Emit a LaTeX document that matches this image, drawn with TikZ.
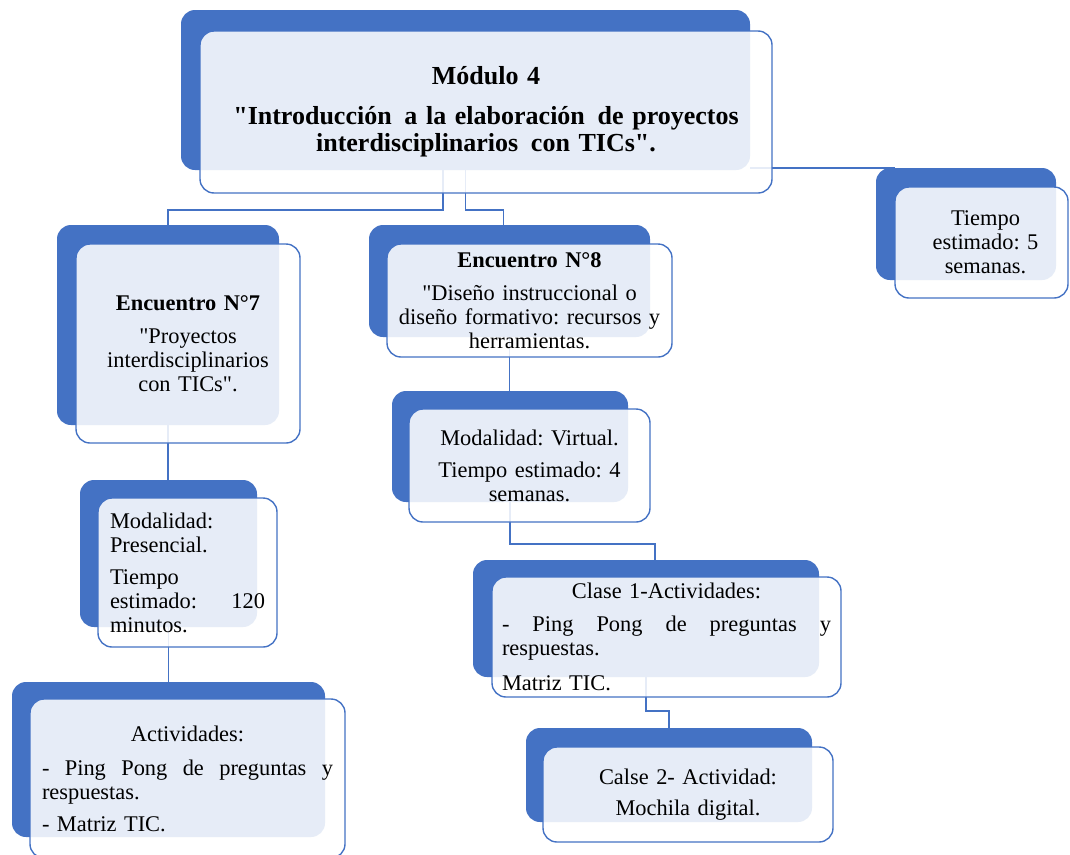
\documentclass[tikz,border=0pt]{standalone}
\usepackage{fontspec}
\setmainfont{Liberation Serif}[Ligatures=TeXOff]
\usetikzlibrary{backgrounds}
\definecolor{myblue}{HTML}{4472C4}
\newcommand\mybody{\fontsize{22.4}{24}\selectfont\frenchspacing}
\newcommand\qd{\char34\relax}
\begin{document}
\begin{tikzpicture}[x=1pt,y=-1pt,
  back/.style={fill=myblue, rounded corners=14pt, inner sep=0pt, outer sep=0pt, anchor=north west},
  front/.style={draw=myblue, line width=1.4pt, fill=white, fill opacity=0.87, text opacity=1,
    rounded corners=14pt, inner sep=0pt, outer sep=0pt, anchor=north west, align=center, font=\mybody},
  conn/.style={draw=myblue, line width=1.8pt},
]
\useasboundingbox (0,0) rectangle (1070,854);

% Module 4
\node[back, minimum width=569pt, minimum height=160pt] (m4b) at (181,10) {};
\node[front, minimum width=572pt, minimum height=162pt, text width=560pt,
  font=\fontsize{26}{27}\selectfont\bfseries\frenchspacing] (m4) at (200,31)
  {Módulo 4\\[13pt]\qd Introducción\hspace{4pt} a la elaboración\hspace{4pt} de proyectos\\interdisciplinarios\hspace{4pt} con TICs\qd.};

% Tiempo estimado 5 semanas
\node[back, minimum width=180pt, minimum height=112pt] (tb) at (876,168) {};
\node[front, minimum width=173pt, minimum height=111pt, text width=160pt] (tf) at (895,187)
  {\hspace*{8pt}Tiempo\\\hspace*{8pt}estimado: 5\\\hspace*{8pt}semanas.};

% Encuentro 7
\node[back, minimum width=222pt, minimum height=200pt] (e7b) at (57,225) {};
\node[front, minimum width=224pt, minimum height=199pt, text width=210pt] (e7) at (76,244)
  {\textbf{Encuentro N°7}\\[9pt]\qd Proyectos\\interdisciplinarios\\con TICs\qd.};

% Encuentro 8
\node[back, minimum width=281pt, minimum height=112pt] (e8b) at (369,225) {};
\node[front, minimum width=285pt, minimum height=113pt, text width=275pt] (e8) at (387,244)
  {\textbf{Encuentro N°8}\\[9pt]\qd Diseño instruccional o\\diseño formativo: recursos y\\herramientas.};

% Modalidad virtual
\node[back, minimum width=236pt, minimum height=111pt] (vb) at (392,391) {};
\node[front, minimum width=241pt, minimum height=113pt, text width=230pt] (v) at (409,409)
  {Modalidad: Virtual.\\[8pt]Tiempo estimado: 4\\semanas.};

% Modalidad presencial
\node[back, minimum width=177pt, minimum height=147pt] (pb) at (80,480) {};
\node[front, minimum width=179pt, minimum height=149pt, text width=155pt, align=left] (p) at (98,498)
  {Modalidad:\\Presencial.\\[8pt]Tiempo\\estimado:\hfill 120\\minutos.};

% Actividades
\node[back, minimum width=313pt, minimum height=155pt] (ab) at (12,682) {};
\node[front, minimum width=315pt, minimum height=159pt, text width=291pt] (a) at (30,699)
  {Actividades:\\[10pt]\makebox[291pt][l]{-\hfill Ping\hfill Pong\hfill de\hfill preguntas\hfill y}\\\makebox[291pt][l]{respuestas.}\\[8pt]\makebox[291pt][l]{- Matriz TIC.}};

% Clase 1
\node[back, minimum width=346pt, minimum height=117pt] (c1b) at (473,560) {};
\node[front, minimum width=349pt, minimum height=120pt, text width=329pt] (c1) at (492,577)
  {Clase 1-Actividades:\\[9pt]\makebox[329pt][l]{-\hfill Ping\hfill Pong\hfill de\hfill preguntas\hfill y}\\\makebox[329pt][l]{respuestas.}\\[11pt]\makebox[329pt][l]{Matriz TIC.}};

% Clase 2
\node[back, minimum width=286pt, minimum height=94pt] (c2b) at (526,728) {};
\node[front, minimum width=290pt, minimum height=95pt, text width=270pt] (c2) at (543,747)
  {Calse 2- Actividad:\\[7pt]Mochila digital.};

\begin{pgfonlayer}{background}
\draw[conn] ([xshift=-22.5pt]m4b.south) -- ++(0,40) -| (e7b.north);
\draw[conn] (m4b.south) -- ++(0,40) -| ([xshift=-6pt]e8b.north);
\coordinate (m4r) at ([yshift=2pt]m4b.south east);
\draw[conn] (m4r) -- (m4r -| tf.west);
\draw[conn] (e7b.south) -- (e7b.south |- pb.north);
\draw[conn] (pb.south) -- (pb.south |- ab.north);
\draw[conn] (e8b.south) -- (e8b.south |- vb.north);
\draw[conn] (vb.south) -- ++(0,42) -| ([xshift=9pt]c1b.north);
\draw[conn] (c1b.south) -- ++(0,34) -| (c2b.north);
\end{pgfonlayer}
\end{tikzpicture}
\end{document}
